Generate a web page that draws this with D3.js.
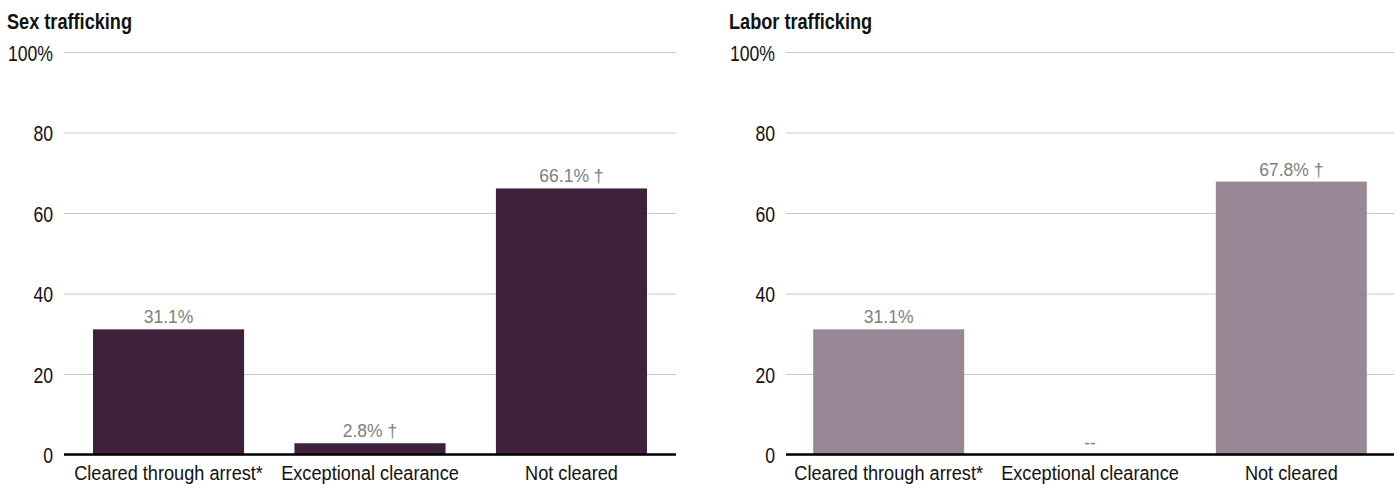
<!DOCTYPE html>
<html>
<head>
<meta charset="utf-8">
<script src="https://cdn.jsdelivr.net/npm/d3@7"></script>
<style>
  body { margin: 0; background: #fff; }
  svg text { font-family: "Liberation Sans", Arial, sans-serif; }
  .grid line { stroke: #c8c8c8; stroke-width: 1px; }
  .grid text { fill: #111; font-size: 22px; }
</style>
</head>
<body>
<svg id="chart" width="1397" height="489"></svg>
<script>
    var categories = ["Cleared through arrest*", "Exceptional clearance", "Not cleared"];
    var sexValues = [31.1, 2.8, 66.1];
    var sexNotes = ["", "†", "†"];
    var laborValues = [31.1, null, 67.8];
    var laborNotes = ["", "", "†"];
    var yTicks = [0, 20, 40, 60, 80, 100];

    var svg = d3.select("#chart");
    var yScale = d3.scaleLinear().domain([0, 100]).range([454.5, 52]);

    // narrow the text horizontally (the original uses a condensed face)
    function squeeze(sel, sx) {
      sel.attr("transform", function() {
        var x = +d3.select(this).attr("x") || 0;
        var y = +d3.select(this).attr("y") || 0;
        return "translate(" + x + "," + y + ") scale(" + sx + ",1)";
      }).attr("x", 0).attr("y", 0);
    }

    function drawPanel(title, values, notes, color, left, right, padOuter) {
      var g = svg.append("g");

      var xScale = d3.scaleBand()
        .domain(categories)
        .range([left, right])
        .paddingInner(0.25)
        .paddingOuter(padOuter);

      // title
      g.append("text")
        .attr("x", left - 57)
        .attr("y", 29)
        .attr("font-size", "22px")
        .attr("font-weight", "bold")
        .attr("fill", "#111")
        .text(title)
        .call(squeeze, 0.825);

      // gridlines + tick labels
      var axis = d3.axisLeft(yScale)
        .tickValues(yTicks)
        .tickSize(-(right - left))
        .tickPadding(11)
        .tickFormat((d) => d === 100 ? d + "%" : d);

      g.append("g")
        .attr("class", "grid")
        .attr("transform", "translate(" + left + ",0)")
        .call(axis)
        .call((a) => a.select(".domain").remove())
        .selectAll(".tick text")
        .attr("dy", null)
        .attr("y", 8.2)
        .call(squeeze, 0.8);

      var rows = categories.map((c, i) => ({cat: c, value: values[i], note: notes[i]}));

      g.selectAll("rect.bar")
        .data(rows.filter((d) => d.value != null))
        .enter().append("rect")
        .attr("class", "bar")
        .attr("x", (d) => xScale(d.cat))
        .attr("width", xScale.bandwidth())
        .attr("y", (d) => yScale(d.value))
        .attr("height", (d) => yScale(0) - yScale(d.value))
        .attr("fill", color);

      // baseline
      g.append("line")
        .attr("x1", left)
        .attr("x2", right)
        .attr("y1", yScale(0))
        .attr("y2", yScale(0))
        .attr("stroke", "#000")
        .attr("stroke-width", 2.5);

      // value labels
      g.selectAll("text.val")
        .data(rows)
        .enter().append("text")
        .attr("class", "val")
        .attr("x", (d) => xScale(d.cat) + xScale.bandwidth() / 2)
        .attr("y", (d) => yScale(d.value == null ? 0 : d.value) - 6)
        .attr("text-anchor", "middle")
        .attr("font-size", "17.5px")
        .attr("fill", "#808080")
        .text((d) => d.value == null ? "--" : d.value.toFixed(1) + "%" + (d.note ? " " + d.note : ""));

      // category labels
      g.selectAll("text.cat")
        .data(categories)
        .enter().append("text")
        .attr("class", "cat")
        .attr("x", (d) => xScale(d) + xScale.bandwidth() / 2)
        .attr("y", 480)
        .attr("text-anchor", "middle")
        .attr("font-size", "21px")
        .attr("fill", "#111")
        .text((d) => d)
        .call(squeeze, 0.865);
    }

    drawPanel("Sex trafficking", sexValues, sexNotes, "#3e213d", 64, 676, 0.144);
    drawPanel("Labor trafficking", laborValues, laborNotes, "#9a8796", 786, 1394, 0.135);
</script>
</body>
</html>
